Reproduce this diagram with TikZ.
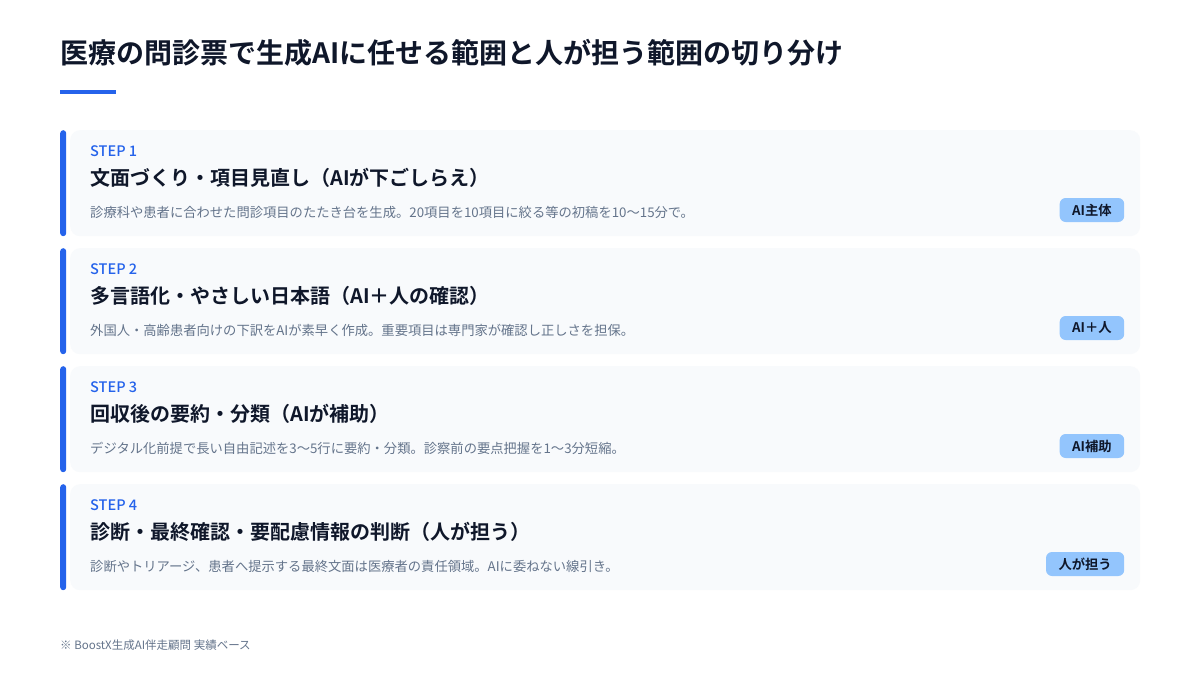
\documentclass[tikz,border=0pt]{standalone}
\usepackage{fontspec}
\setmainfont{Noto Sans CJK JP}[BoldFont={Noto Sans CJK JP Bold}]
\newfontfamily\mediumfont{Noto Sans CJK JP Medium}
\usepackage{tikz}
\usetikzlibrary{positioning,calc}
\usepackage{xcolor}
\definecolor{ink}{HTML}{0F172A}
\definecolor{accent}{HTML}{2563EB}
\definecolor{cardbg}{HTML}{F8FAFC}
\definecolor{muted}{HTML}{64748B}
\definecolor{badgebg}{HTML}{93C5FD}

\begin{document}
\begin{tikzpicture}[x=1pt,y=-1pt,inner sep=0pt,
    card/.style={rectangle,rounded corners=10pt,fill=cardbg,anchor=north west,
                 minimum width=1070pt,minimum height=106pt},
    sidebar/.style={rectangle,rounded corners=3pt,fill=accent,anchor=north west,
                 minimum width=6pt,minimum height=106pt},
    steplabel/.style={anchor=west,text=accent,font=\fontsize{14.5}{17}\mediumfont},
    heading/.style={anchor=west,text=ink,font=\fontsize{20}{24}\selectfont\bfseries},
    desc/.style={anchor=west,text=muted,font=\fontsize{13.3}{16}\selectfont},
    badge/.style={rectangle,rounded corners=6pt,fill=badgebg,text=ink,anchor=east,
                 minimum height=24pt,inner xsep=12.5pt,font=\fontsize{13.3}{16}\selectfont\bfseries}]

  \useasboundingbox[fill=white] (0,0) rectangle (1200,675);

  \node[anchor=west,text=ink,font=\fontsize{28}{33}\selectfont\bfseries] (title) at (60,53)
       {医療の問診票で生成AIに任せる範囲と人が担う範囲の切り分け};
  \coordinate (ulstart) at (60,92);
  \coordinate (ulend) at (116,92);
  \draw[accent,line width=4pt] (ulstart) -- (ulend);

  % step 1
  \node[card] (c1) at (70,130) {};
  \node[sidebar] (b1) at (60,130) {};
  \node[steplabel] (s1) at ([xshift=20pt,yshift=-21pt]c1.north west) {STEP 1};
  \node[heading] (h1) at ([yshift=-27pt]s1.west) {文面づくり・項目見直し（AIが下ごしらえ）};
  \node[desc] (d1) at ([yshift=-34pt]h1.west) {診療科や患者に合わせた問診項目のたたき台を生成。20項目を10項目に絞る等の初稿を10〜15分で。};
  \node[badge] (t1) at ([xshift=-16pt,yshift=-80pt]c1.north east) {AI主体};

  % step 2
  \node[card] (c2) at (70,248) {};
  \node[sidebar] (b2) at (60,248) {};
  \node[steplabel] (s2) at ([xshift=20pt,yshift=-21pt]c2.north west) {STEP 2};
  \node[heading] (h2) at ([yshift=-27pt]s2.west) {多言語化・やさしい日本語（AI＋人の確認）};
  \node[desc] (d2) at ([yshift=-34pt]h2.west) {外国人・高齢患者向けの下訳をAIが素早く作成。重要項目は専門家が確認し正しさを担保。};
  \node[badge] (t2) at ([xshift=-16pt,yshift=-80pt]c2.north east) {AI＋人};

  % step 3
  \node[card] (c3) at (70,366) {};
  \node[sidebar] (b3) at (60,366) {};
  \node[steplabel] (s3) at ([xshift=20pt,yshift=-21pt]c3.north west) {STEP 3};
  \node[heading] (h3) at ([yshift=-27pt]s3.west) {回収後の要約・分類（AIが補助）};
  \node[desc] (d3) at ([yshift=-34pt]h3.west) {デジタル化前提で長い自由記述を3〜5行に要約・分類。診察前の要点把握を1〜3分短縮。};
  \node[badge] (t3) at ([xshift=-16pt,yshift=-80pt]c3.north east) {AI補助};

  % step 4
  \node[card] (c4) at (70,484) {};
  \node[sidebar] (b4) at (60,484) {};
  \node[steplabel] (s4) at ([xshift=20pt,yshift=-21pt]c4.north west) {STEP 4};
  \node[heading] (h4) at ([yshift=-27pt]s4.west) {診断・最終確認・要配慮情報の判断（人が担う）};
  \node[desc] (d4) at ([yshift=-34pt]h4.west) {診断やトリアージ、患者へ提示する最終文面は医療者の責任領域。AIに委ねない線引き。};
  \node[badge] (t4) at ([xshift=-16pt,yshift=-80pt]c4.north east) {人が担う};

  \node[anchor=west,text=muted,font=\fontsize{11.5}{14}\selectfont] (note) at (60,645)
       {※ BoostX生成AI伴走顧問 実績ベース};
\end{tikzpicture}
\end{document}
